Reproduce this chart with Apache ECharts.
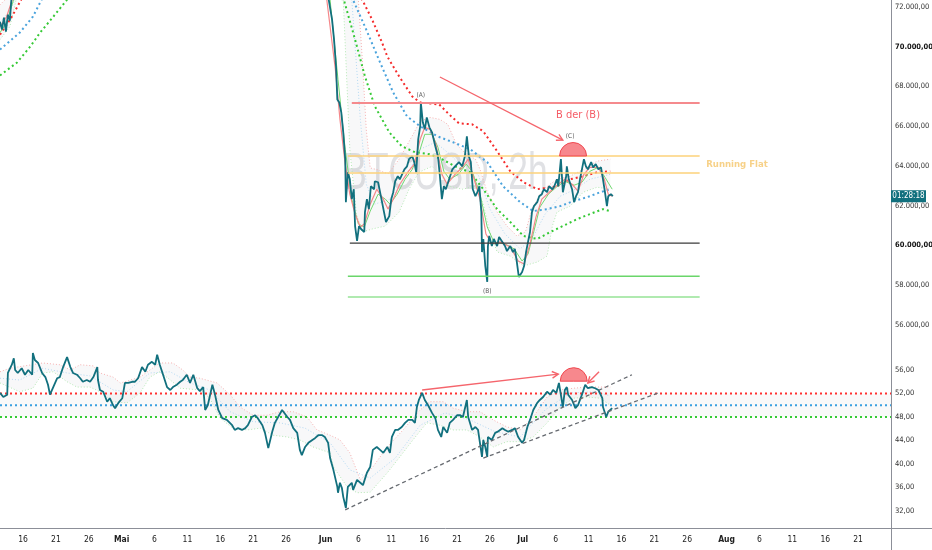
<!DOCTYPE html>
<html>
<head>
<meta charset="utf-8">
<script src="https://cdn.jsdelivr.net/npm/echarts@6/dist/echarts.min.js"></script>
<style>
html,body{margin:0;padding:0;background:#fff}
#chart{width:932px;height:550px}
</style>
</head>
<body>
<div id="chart"></div>
<script>
// x values are days counted from 16 Apr 00:00
var dateTicks  = [0,5,10,15,20,25,30,35,40,46,51,56,61,66,71,76,81,86,91,96,101,107,112,117,122,127];
var dateLabels = ['16','21','26','Mai','6','11','16','21','26','Jun','6','11','16','21','26','Jul','6','11','16','21','26','Aug','6','11','16','21'];
var monthNames = ['Mai','Jun','Jul','Aug'];
var priceTicks = [56000,58000,60000,62000,64000,66000,68000,70000,72000];
var boldPrices = [60000,70000];
var oscTicks   = [32,36,40,44,48,52,56];

// BTCUSD 2h close
var priceData = [[-3.5,71250],[-3.2,70850],[-2.9,71450],[-2.6,70750],[-2.3,71600],[-2.0,71300],[-1.7,72700],[-1.4,73300],[0,73400],[1.5,74200],[4,73000],[6.7,74500],[10,73800],[12.8,73000],[14,72800],[16,73600],[20.4,75000],[22.4,74200],[26,74500],[28,73800],[30,73200],[33,72900],[35,73300],[37.3,72700],[39.4,73400],[42.4,72700],[45,73000],[46,72900],[46.5,72340],
[47.0,71350],[47.3,70350],[47.6,69000],[47.8,67340],[48.1,67190],[48.4,66690],[48.7,65690],[49.0,64340],[49.1,62180],[49.4,63680],[49.7,63330],[50.0,62330],[50.3,62830],[50.5,60980],[50.8,60230],[51.1,60980],[51.4,60830],[51.9,60680],[52.0,61680],[52.3,62330],[52.6,61830],[52.9,62980],[53.4,62830],[53.5,63230],[54.0,63180],[54.3,62680],[54.9,61680],[55.2,61180],[55.7,61480],[56.0,62330],[56.3,62680],[56.6,63230],[57.0,63480],[57.3,63330],[58.0,63830],[58.4,63980],[58.7,64340],[59.2,64490],[59.5,64190],[59.8,63680],[60.1,65340],[60.4,65990],[60.5,67190],[60.8,66190],[61.1,65840],[61.4,66440],[61.8,65940],[62.2,65690],[62.7,64990],[63.1,64490],[63.4,63480],[63.7,62330],[64.0,62980],[64.3,62830],[64.8,63330],[65.3,63830],[65.7,63980],[66.3,64190],[66.8,63980],[67.2,64490],[67.5,65490],[67.8,64490],[68.1,64190],[68.4,62830],[68.8,62480],[69.1,62680],[69.4,62980],[69.7,61680],[69.8,59670],[70.0,60330],[70.3,58970],[70.6,58170],[70.7,59975],[70.9,60480],[71.3,59975],[71.6,60330],[72.1,59975],[72.4,60430],[72.9,60180],[73.3,59975],[73.6,59720],[74.1,59975],[74.5,59670],[74.8,59825],[75.1,59170],[75.4,58420],[75.9,58670],[76.2,58970],[76.5,59670],[76.8,60180],[77.1,60680],[77.4,61680],[77.7,61980],[78.2,62180],[78.5,62480],[78.9,62580],[79.2,62830],[79.7,62680],[80.0,62980],[80.5,62830],[80.8,62980],[81.2,63330],[81.4,62980],[81.8,64340],[82.0,64440],[82.1,62680],[82.6,63480],[82.7,63980],[83.0,63330],[83.5,62830],[83.8,62180],[84.1,62480],[84.4,62680],[84.7,63330],[85.0,63830],[85.3,64340],[85.6,63980],[85.9,63830],[86.4,64190],[86.7,63930],[87.1,64090],[87.5,63830],[87.9,63930],[88.2,63330],[88.5,62680],[88.8,61980],[89.0,62480],[89.4,62580],[89.7,62480]];

// slow moving averages (bold dotted)
var maRed = [[-3.5,70600],[-1.7,71500],[-0.2,72400],[5,73500],[15,74500],[25,75000],[35,75500],[45,74800],[51.6,72340],[53.1,71350],[54.6,70200],[55.4,69500],[57.2,68500],[59.2,67490],[60.4,67190],[61.9,67140],[63.3,67090],[64.8,66590],[66.3,66140],[68.3,66090],[70.0,65740],[72.1,64740],[74.1,63730],[76.1,63180],[78.2,62830],[81.2,62980],[83.2,63330],[85.2,63480],[87.3,63680],[89.3,63730]];
var maBlue = [[-3.5,69850],[-0.5,70700],[1.5,71500],[2.9,72400],[10,73500],[20,74200],[30,74500],[40,74000],[47,73200],[50.2,72340],[52.2,70850],[54.3,69200],[56.3,67690],[58.4,66490],[60.4,65990],[63.0,65490],[65.4,65190],[68.0,64840],[70.6,64190],[73.0,62980],[75.6,62180],[77.6,61730],[79.7,61830],[81.7,61980],[83.7,62230],[85.8,62430],[87.8,62680],[89.3,62830]];
var maGreen = [[-3.5,68550],[-0.9,69200],[1.1,70000],[2.6,70700],[4.6,71500],[6.8,72400],[15,73300],[25,74000],[35,73800],[42,73300],[48.8,72340],[50.5,70350],[52.0,68500],[53.5,67000],[55.7,65690],[57.6,64990],[59.6,64690],[61.8,64590],[63.7,64340],[65.7,63980],[68.0,63680],[70.0,62830],[72.1,61830],[74.1,61180],[76.1,60480],[78.2,60330],[80.2,60680],[82.1,60980],[84.3,61330],[86.2,61580],[88.2,61830],[89.3,61730]];

// fast averages (thin solid)
var fastRed = [[-3.5,71000],[-2.5,71500],[-1.5,72500],[5,73500],[15,73500],[25,74200],[35,73600],[45,73000],[46.2,72340],[47.5,68850],[48.2,66340],[49.0,64090],[49.7,62580],[50.5,61580],[51.3,60930],[51.9,61080],[52.8,62080],[53.8,62830],[54.8,62330],[55.5,61830],[56.3,62330],[57.3,63080],[58.6,63730],[59.5,64090],[60.4,65340],[61.1,65940],[61.9,65840],[62.8,65090],[63.7,63580],[64.5,63080],[65.7,63580],[66.8,63930],[67.7,64340],[68.6,63330],[69.5,62330],[70.4,60580],[71.3,60080],[72.6,60180],[74.1,59930],[75.3,59220],[76.2,59070],[77.1,60080],[78.0,61430],[78.9,62330],[80.2,62730],[81.4,63080],[82.4,63330],[83.5,63080],[84.4,62730],[85.3,63580],[86.2,63930],[87.5,63930],[88.4,63330],[89.0,62580],[89.6,62480]];
var fastGreen = [[-3.5,70700],[-2.5,71200],[-1.3,72500],[5,73300],[15,73400],[25,74000],[35,73500],[45,73000],[46.7,72340],[47.9,68350],[49.0,64840],[50.0,62330],[51.0,61080],[51.9,60930],[52.8,61730],[54.0,62580],[55.1,62330],[55.8,62080],[56.9,62580],[58.1,63330],[59.2,63830],[60.4,64840],[61.1,65590],[62.2,65590],[63.1,64940],[64.0,63730],[64.9,63330],[66.2,63580],[67.4,64090],[68.3,63730],[69.5,62580],[70.6,60930],[71.6,60180],[73.3,60080],[74.7,59830],[75.9,59220],[76.8,59570],[77.7,60730],[78.6,61930],[79.9,62580],[81.1,62930],[82.4,63230],[83.8,63030],[85.0,63180],[86.2,63730],[87.5,63930],[88.5,63430],[89.6,62830]];

// envelope around price (faint)
var bandUpper = [[-3.5,72100],[-2.0,72600],[5,74500],[15,75000],[25,75500],[35,75000],[45,74500],[51.0,72340],[51.6,69350],[52.2,65840],[52.8,63900],[54.0,63800],[55.5,63600],[57.2,64340],[58.9,65340],[60.4,66240],[61.9,66440],[63.4,66340],[64.6,66090],[65.9,65090],[67.4,64590],[68.8,64340],[69.5,63830],[70.6,62680],[72.1,61680],[73.6,60980],[75.1,60480],[76.4,60680],[77.4,61830],[79.1,62830],[81.2,63330],[83.2,63480],[85.2,63830],[87.3,64240],[89.3,64340]];
var bandMid = [[-3.5,71200],[-2.0,71800],[-1.0,72500],[5,73600],[15,74000],[25,74300],[35,74000],[45,73600],[50.0,72340],[51.3,66340],[52.2,63080],[53.5,62080],[55.8,62330],[58.1,63330],[60.4,64840],[62.7,65190],[64.9,64590],[67.2,63830],[69.2,63580],[71.0,61830],[73.3,60580],[75.6,59830],[77.4,60330],[79.4,61580],[81.7,62480],[84.0,62830],[86.2,63330],[89.3,63580]];
var bandLower = [[-3.5,70350],[-2.0,71000],[-1.0,72400],[5,72800],[15,73000],[25,73200],[35,72900],[45,72800],[48.7,72340],[49.7,64840],[50.7,61580],[51.6,60680],[53.1,60830],[55.1,60980],[57.2,61680],[58.7,62830],[60.2,63680],[62.2,63980],[63.4,63580],[64.8,62980],[66.8,62830],[68.8,62980],[70.0,62080],[71.0,60680],[72.1,59680],[74.1,59470],[76.1,58970],[78.2,59170],[79.7,59470],[80.5,60980],[81.2,61680],[83.2,61980],[85.2,62680],[87.3,62930],[89.3,62830]];

// lower pane oscillator
var oscData = [[-3.5,52.1],[-3.0,51.4],[-2.4,51.8],[-2.3,55.5],[-1.7,56.9],[-1.4,58.0],[-1.2,56.0],[-0.8,55.5],[-0.2,56.3],[0.3,55.2],[0.8,56.0],[1.4,55.2],[1.5,58.9],[1.8,57.7],[2.3,57.2],[2.9,55.5],[3.4,54.8],[3.8,53.5],[4.1,51.8],[4.6,53.1],[5.2,54.6],[5.6,54.8],[6.1,56.5],[6.7,58.2],[7.2,56.5],[7.6,55.5],[8.2,55.2],[8.7,54.6],[9.1,54.0],[9.7,54.3],[10.2,54.0],[10.7,54.8],[11.3,56.5],[11.4,54.3],[11.7,52.6],[12.2,52.3],[12.8,50.6],[13.2,51.2],[13.7,50.0],[14.0,49.5],[14.5,50.4],[15.1,51.2],[15.5,53.8],[16.0,53.8],[16.6,54.0],[17.0,54.0],[17.5,54.6],[18.1,56.5],[18.6,55.7],[19.0,56.9],[19.6,57.4],[20.1,56.9],[20.4,58.6],[20.8,56.9],[21.3,55.2],[21.9,53.1],[22.4,52.6],[22.8,53.1],[23.4,53.5],[23.9,54.0],[24.3,54.3],[24.9,55.2],[25.4,53.8],[25.9,55.2],[26.5,52.9],[26.9,52.4],[27.4,53.1],[27.7,49.2],[28.1,50.0],[28.8,53.5],[29.2,51.8],[29.7,49.2],[30.3,47.8],[31.0,47.5],[31.8,46.6],[32.2,45.8],[32.7,46.1],[33.3,45.8],[33.8,46.1],[34.2,46.6],[34.8,48.0],[35.3,48.3],[35.7,47.8],[36.4,46.6],[36.8,45.3],[37.3,42.7],[37.9,45.5],[38.3,47.0],[38.8,48.0],[39.4,49.2],[39.7,49.0],[40.2,48.0],[40.6,47.5],[41.1,46.1],[41.7,45.3],[42.1,42.4],[42.4,41.5],[42.9,42.9],[43.4,43.6],[44.0,44.1],[44.4,44.4],[44.9,44.9],[45.5,44.9],[45.9,44.6],[46.4,43.6],[46.7,41.0],[47.2,39.0],[47.8,36.1],[47.9,35.1],[48.2,36.8],[48.5,35.9],[48.7,34.4],[49.1,32.5],[49.4,36.1],[50.0,36.8],[50.2,35.6],[50.8,37.3],[51.3,36.8],[51.7,36.4],[52.3,38.5],[52.8,39.5],[53.2,42.4],[53.8,42.9],[54.3,42.4],[54.8,41.9],[55.4,42.9],[55.8,41.9],[56.1,44.6],[56.6,45.8],[57.0,45.8],[57.6,46.3],[58.1,47.0],[58.6,47.5],[59.2,47.5],[59.6,47.0],[59.9,49.7],[60.2,50.9],[60.7,52.1],[61.1,50.9],[61.6,50.0],[62.2,48.7],[62.7,47.8],[63.1,45.8],[63.6,44.6],[63.9,46.3],[64.5,45.3],[64.9,47.0],[65.4,47.5],[66.0,48.3],[66.5,48.3],[66.9,48.0],[67.5,50.9],[67.7,48.0],[68.3,45.8],[68.8,46.3],[69.2,45.8],[69.8,41.2],[70.0,44.1],[70.3,42.9],[70.6,41.2],[70.7,44.6],[71.3,44.1],[71.8,45.3],[72.2,45.5],[72.9,46.1],[73.3,45.8],[73.8,45.5],[74.4,45.8],[74.8,46.1],[75.3,44.6],[75.9,43.6],[76.2,44.1],[76.7,46.3],[77.1,47.5],[77.6,49.2],[78.2,50.4],[78.6,50.9],[79.1,51.4],[79.7,52.3],[80.2,51.8],[80.6,52.6],[81.1,52.1],[81.5,53.8],[81.8,54.0],[82.1,49.7],[82.4,52.6],[82.7,53.1],[82.9,51.8],[83.5,50.9],[84.0,49.5],[84.4,50.0],[85.0,51.8],[85.5,53.5],[85.9,52.9],[86.5,53.1],[87.0,52.9],[87.5,52.6],[88.1,51.2],[88.2,49.7],[88.7,48.0],[89.0,48.9],[89.6,49.5]];
var oscUpper = [[-3.5,55.7],[-2.0,56.3],[3.0,57.2],[5.6,56.9],[7.2,56.0],[8.7,56.9],[10.7,56.7],[11.7,55.5],[13.7,54.8],[14.8,53.8],[15.8,54.1],[17.8,54.8],[19.3,56.0],[20.8,57.2],[22.8,57.2],[24.3,56.0],[25.4,54.8],[26.9,54.6],[29.5,53.8],[31.5,51.8],[33.0,49.7],[35.0,48.3],[37.1,48.3],[39.1,48.9],[41.1,48.9],[43.2,48.0],[44.7,45.8],[46.7,44.9],[48.2,44.1],[49.7,41.9],[51.3,37.3],[53.2,39.5],[55.4,42.9],[57.8,45.8],[60.4,49.2],[61.9,50.6],[63.9,50.6],[65.4,49.5],[67.5,48.9],[69.5,48.9],[71.5,47.5],[73.6,46.3],[75.6,45.8],[77.6,48.0],[79.7,51.4],[81.7,52.6],[83.7,52.9],[85.8,53.1],[87.8,53.1],[89.3,53.1]];
var oscMid = [[-3.5,54.6],[-0.5,54.3],[3.0,56.3],[6.7,55.5],[10.2,55.0],[13.7,52.6],[15.8,52.3],[19.3,55.5],[22.4,55.7],[25.4,53.8],[28.4,52.6],[31.5,48.9],[35.0,47.2],[39.1,47.0],[42.9,46.1],[46.7,43.6],[49.7,39.0],[52.8,37.6],[56.6,41.0],[60.4,46.6],[64.2,48.7],[68.0,47.5],[71.8,45.5],[75.6,44.6],[79.4,49.2],[83.2,52.1],[87.0,52.3],[89.3,51.6]];
var oscLower = [[-3.5,53.8],[-0.5,52.3],[1.5,52.9],[3.0,55.5],[4.6,55.7],[6.7,54.0],[8.2,53.1],[10.2,53.1],[11.7,52.3],[13.7,50.6],[15.8,50.4],[17.8,52.1],[19.3,54.8],[20.8,55.7],[22.4,54.3],[23.9,52.9],[26.9,52.6],[28.4,51.2],[30.0,47.8],[31.9,46.1],[34.1,45.8],[36.1,46.1],[38.0,44.9],[40.2,44.6],[42.1,44.1],[44.1,42.9],[46.7,41.9],[47.2,39.5],[49.3,36.1],[50.8,35.1],[52.8,35.2],[55.4,38.5],[57.3,41.2],[59.3,44.1],[61.4,47.0],[63.4,46.6],[65.4,45.8],[67.5,45.8],[69.5,44.6],[71.5,42.9],[73.6,43.8],[75.6,43.8],[77.6,44.6],[79.7,47.0],[81.7,49.7],[83.7,51.2],[85.8,51.4],[87.8,51.2],[89.3,50.0]];
var oscLevels = [52,50,48];

// drawings
var priceLevels = [67160,64500,63640,60120,58460,57410];
var levelStart  = [50.0,49.4,49.4,49.7,49.4,49.4];
var levelEnd = 102.9;
var priceArrow = [[63.4,68470,82.1,65300]];
var priceCap   = [[81.6,85.7,64500]];
var oscArrows  = [[60.7,52.6,81.4,55.3],[87.6,55.7,85.9,53.8]];
var oscCap     = [[81.7,85.8,54.1]];
var trendLine1 = [[49.0,32.2],[92.6,55.2]];
var trendLine2 = [[70.0,41.0],[96.6,52.1]];
var priceNotes = [
  {value:[60.5,67560], name:'(A)'},
  {value:[70.6,57720], name:'(B)'},
  {value:[83.2,65500], name:'(C)'}
];

var FONT = "'Liberation Sans Narrow','DejaVu Sans Condensed','Liberation Sans',sans-serif";
var W = 932, AXIS_W = 41, PANE_H = 345, OSC_H = 183;
var AX = W - AXIS_W;

function fmtNum(v){
  var s = v.toFixed(2).split('.');
  return s[0].replace(/\B(?=(\d{3})+$)/g,'.') + ',' + s[1];
}

function line(name, data, color, width, type, pane, z){
  return {
    name: name, type:'line', data:data, xAxisIndex:pane, yAxisIndex:pane,
    symbol:'none', showSymbol:false, z:z || 2, silent:true,
    lineStyle:{color:color, width:width, type:type || 'solid', cap:'butt'}
  };
}

function bandFill(upper, lower, pane, fill){
  return {
    type:'custom', xAxisIndex:pane, yAxisIndex:pane, z:1, clip:true, silent:true,
    data:[[upper[0][0], upper[0][1]]],
    renderItem:function(params, api){
      var pts = upper.map(function(p){return api.coord(p);});
      var low = lower.slice().reverse().map(function(p){return api.coord(p);});
      return {type:'polygon', shape:{points:pts.concat(low)}, style:{fill:fill}};
    }
  };
}

function arrows(data, pane, color, width){
  return {
    type:'custom', xAxisIndex:pane, yAxisIndex:pane, z:6, clip:true, silent:true,
    data:data, encode:{x:[0,2], y:[1,3]},
    renderItem:function(params, api){
      var a = api.coord([api.value(0), api.value(1)]);
      var b = api.coord([api.value(2), api.value(3)]);
      var ang = Math.atan2(b[1]-a[1], b[0]-a[0]);
      var L = 7, s = 0.5;
      var h1 = [b[0]-L*Math.cos(ang-s), b[1]-L*Math.sin(ang-s)];
      var h2 = [b[0]-L*Math.cos(ang+s), b[1]-L*Math.sin(ang+s)];
      var st = {stroke:color, lineWidth:width, fill:null};
      return {type:'group', children:[
        {type:'line', shape:{x1:a[0],y1:a[1],x2:b[0],y2:b[1]}, style:st},
        {type:'polyline', shape:{points:[h1,b,h2]}, style:st}
      ]};
    }
  };
}

function halfCircle(data, pane){
  return {
    type:'custom', xAxisIndex:pane, yAxisIndex:pane, z:6, clip:true, silent:true,
    data:data, encode:{x:[0,1], y:2},
    renderItem:function(params, api){
      var l = api.coord([api.value(0), api.value(2)]);
      var r = api.coord([api.value(1), api.value(2)]);
      var rad = (r[0]-l[0])/2;
      return {type:'sector', shape:{cx:l[0]+rad, cy:l[1], r:rad, r0:0,
        startAngle:Math.PI, endAngle:2*Math.PI, clockwise:true},
        style:{fill:'#f7888d', stroke:'#f0474f', lineWidth:1}};
    }
  };
}

var levelColors = ['#f58a8d','#fdd27a','#fdd27a','#3b3b3b','#6ad66a','#96e396'];
var levelWidths = [2,1.5,1.5,1.2,1.5,1.5];
var levelSeries = priceLevels.map(function(p,i){
  return line('level'+i, [[levelStart[i],p],[levelEnd,p]], levelColors[i], levelWidths[i], 'solid', 0, 5);
});

var oscLevelColors = ['#ff3030','#3aa0e0','#33cc33'];
var oscLevelSeries = oscLevels.map(function(v,i){
  return line('osc'+v, [[-3.5,v],[132,v]], oscLevelColors[i], 2, [2,3], 1, 3);
});
oscLevelSeries[0].markArea = {silent:true, itemStyle:{color:'rgba(0,0,0,0.025)'},
  data:[[{xAxis:-3.5, yAxis:oscLevels[2]},{xAxis:132, yAxis:oscLevels[0]}]]};

var axisLineStyle = {show:true, onZero:false, lineStyle:{color:'#8c8f98', width:1}};

var chart = echarts.init(document.getElementById('chart'));

var option = {
  animation:false,
  backgroundColor:'#ffffff',
  grid:[
    {left:0, right:AXIS_W, top:0, height:PANE_H, outerBoundsMode:'none'},
    {left:0, right:AXIS_W, top:PANE_H, height:OSC_H, outerBoundsMode:'none'}
  ],
  xAxis:[
    {gridIndex:0, type:'value', min:-3.5, max:132,
      axisLine:{show:false}, axisTick:{show:false}, axisLabel:{show:false}, splitLine:{show:false}},
    {gridIndex:1, type:'value', min:-3.5, max:132,
      axisLine:axisLineStyle, axisTick:{show:false}, splitLine:{show:false},
      axisLabel:{
        customValues:dateTicks, margin:7, fontSize:8.5, color:'#222', fontFamily:FONT,
        formatter:function(v){
          var s = dateLabels[dateTicks.indexOf(v)];
          return monthNames.indexOf(s) >= 0 ? '{m|' + s + '}' : s;
        },
        rich:{m:{fontWeight:'bold', fontSize:8.5, color:'#222', fontFamily:FONT}}
      }}
  ],
  yAxis:[
    {gridIndex:0, type:'value', position:'right', min:55000, max:72340,
      axisLine:axisLineStyle, axisTick:{show:false}, splitLine:{show:false},
      axisLabel:{customValues:priceTicks, margin:4, fontSize:7.5, color:'#333', fontFamily:FONT,
        formatter:function(v){
          return boldPrices.indexOf(v) >= 0 ? '{b|' + fmtNum(v) + '}' : fmtNum(v);
        },
        rich:{b:{fontWeight:'bold', fontSize:7.5, color:'#111', fontFamily:FONT}}}},
    {gridIndex:1, type:'value', position:'right', min:29.1, max:60.26,
      axisLine:axisLineStyle, axisTick:{show:false}, splitLine:{show:false},
      axisLabel:{customValues:oscTicks, margin:4, fontSize:7.5, color:'#333', fontFamily:FONT,
        formatter:function(v){ return fmtNum(v); }}}
  ],
  series:[
    bandFill(bandUpper, bandLower, 0, 'rgba(60,60,80,0.035)'),
    line('bandUpper', bandUpper, '#f6b0b0', 1, [1,2], 0),
    line('bandMid', bandMid, '#b3d8f2', 1, [1,2], 0),
    line('bandLower', bandLower, '#b4e8b4', 1, [1,2], 0),
    line('maRed', maRed, '#f52c2c', 2, [2,3], 0, 3),
    line('maBlue', maBlue, '#4aa3dc', 2, [2,3], 0, 3),
    line('maGreen', maGreen, '#35c935', 2, [2,3], 0, 3),
    line('fastGreen', fastGreen, '#72d872', 1, 'solid', 0, 3),
    line('fastRed', fastRed, '#f5878a', 1.2, 'solid', 0, 3),
    line('BTCUSD', priceData, '#12707e', 1.8, 'solid', 0, 4)
  ].concat(levelSeries).concat([
    arrows(priceArrow, 0, '#f5656c', 1.3),
    halfCircle(priceCap, 0),
    {type:'scatter', xAxisIndex:0, yAxisIndex:0, z:7, silent:true, symbolSize:0,
      data:priceNotes,
      label:{show:true, position:'inside', formatter:'{b}', fontSize:6.5, color:'#333', fontFamily:FONT}},
    {type:'scatter', xAxisIndex:0, yAxisIndex:0, z:7, silent:true, symbolSize:0,
      data:[{value:[84.4,66560], name:'B der (B)'}],
      label:{show:true, position:'inside', formatter:'{b}', fontSize:11, color:'#f2323e', fontFamily:FONT}},
    {type:'scatter', xAxisIndex:0, yAxisIndex:0, z:7, silent:true, symbolSize:0,
      data:[{value:[103.9,64080], name:'Running Flat'}],
      label:{show:true, position:'inside', align:'left', formatter:'{b}', fontSize:9.5,
        color:'#f5c66a', fontWeight:'bold', fontFamily:FONT}},

    bandFill(oscUpper, oscLower, 1, 'rgba(60,60,80,0.035)'),
    line('oscUpper', oscUpper, '#f6b0b0', 1, [1,2], 1),
    line('oscMid', oscMid, '#b3d8f2', 1, [1,2], 1),
    line('oscLower', oscLower, '#b4e8b4', 1, [1,2], 1)
  ]).concat(oscLevelSeries).concat([
    line('trend1', trendLine1, '#666a70', 1.3, [4,3], 1, 5),
    line('trend2', trendLine2, '#666a70', 1.3, [4,3], 1, 5),
    line('osc', oscData, '#12707e', 1.8, 'solid', 1, 4),
    arrows(oscArrows, 1, '#f5656c', 1.4),
    halfCircle(oscCap, 1)
  ])
};

chart.setOption(option);

// watermark, axis extensions and countdown tag at the last close
var lastClose = priceData[priceData.length-1][1];
var tagY = chart.convertToPixel({yAxisIndex:0}, lastClose);
chart.setOption({graphic:[
  {type:'text', x:(W-AXIS_W)/2, y:PANE_H/2 + 2, scaleX:0.68, z:-10, silent:true,
    style:{text:'BTCUSD, 2h', fontSize:52, fontFamily:"'Liberation Sans',sans-serif",
      fill:'#e0e1e4', align:'center', verticalAlign:'middle'}},
  {type:'line', silent:true, z:10,
    shape:{x1:AX+0.5, y1:PANE_H+OSC_H, x2:AX+0.5, y2:550}, style:{stroke:'#8c8f98', lineWidth:1}},
  {type:'line', silent:true, z:10,
    shape:{x1:AX, y1:PANE_H+OSC_H+0.5, x2:W, y2:PANE_H+OSC_H+0.5}, style:{stroke:'#8c8f98', lineWidth:1}},
  {type:'rect', silent:true, z:20,
    shape:{x:AX, y:tagY-6, width:35, height:12}, style:{fill:'#11707e'}},
  {type:'text', silent:true, z:21, x:AX+17.5, y:tagY,
    style:{text:'01:28:18', fill:'#ffffff', fontSize:8, fontFamily:FONT, align:'center', verticalAlign:'middle'}}
]});
</script>
</body>
</html>
